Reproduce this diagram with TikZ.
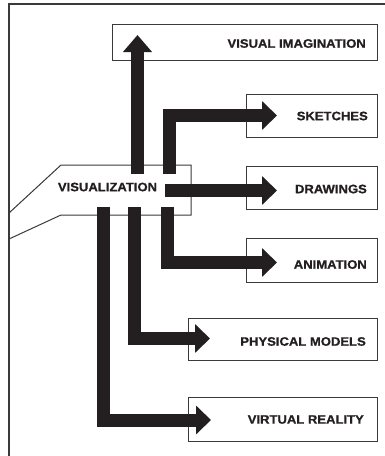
\documentclass[tikz,border=0pt]{standalone}
\usepackage{fontspec}
\usepackage{graphicx}
\setmainfont{Liberation Sans}
\newfontfamily\labelfont{Liberation Sans}[UprightFont=*-Bold, FakeBold=0.8]
\usetikzlibrary{arrows.meta}
\definecolor{ink}{HTML}{231F20}
\definecolor{rule}{HTML}{3A3A3A}
\newcommand{\lbl}[1]{\scalebox{1.07}[1]{#1}}
\tikzset{
  box/.style={draw=rule, line width=1pt, anchor=north west, inner sep=0pt},
  flow/.style={draw=ink, line width=13pt, line cap=butt, line join=miter,
    -{Triangle[length=15pt,width=28pt]}},
  frame/.style={draw=rule, line width=1.8pt},
  hub/.style={draw=rule, line width=1pt, line join=miter},
  caption/.style={font=\fontsize{12.2}{14}\labelfont, text=ink, anchor=east, inner sep=0pt}
}
\begin{document}
\begin{tikzpicture}[x=1pt,y=-1pt]
\useasboundingbox (0,0) rectangle (385,456);
\clip (0,0) rectangle (385,456);
\fill[white] (0,0) rectangle (385,456);

% outer frame (top and left edges)
\draw[frame] (9,470) -- (9,4) -- (400,4);

% central hub outline
\draw[hub] (9,213) -- (61,165) -- (191,165) -- (191,215) -- (61,215) -- (9,239);
\node[caption, anchor=center] (viz) at (107.5,187) {\lbl{VISUALIZATION}};

% target boxes
\node[box, minimum width=265pt, minimum height=36pt] (vi) at (112,24) {};
\node[box, minimum width=131pt, minimum height=43pt] (sk) at (246,94) {};
\node[box, minimum width=131pt, minimum height=43pt] (dr) at (246,166) {};
\node[box, minimum width=131pt, minimum height=44pt] (an) at (246,238) {};
\node[box, minimum width=189pt, minimum height=42pt] (pm) at (188,318) {};
\node[box, minimum width=189pt, minimum height=44pt] (vr) at (188,397) {};

\node[caption] (tvi) at ([xshift=-12pt,yshift=-1pt]vi.east) {\lbl{VISUAL IMAGINATION}};
\node[caption] (tsk) at ([xshift=-10pt]sk.east) {\lbl{SKETCHES}};
\node[caption] (tdr) at ([xshift=-11pt,yshift=-1pt]dr.east) {\lbl{DRAWINGS}};
\node[caption] (tan) at ([xshift=-11pt,yshift=-4pt]an.east) {\lbl{ANIMATION}};
\node[caption] (tpm) at ([xshift=-12pt,yshift=-2pt]pm.east) {\lbl{PHYSICAL MODELS}};
\node[caption] (tvr) at ([xshift=-14pt,yshift=0pt]vr.east) {\lbl{VIRTUAL REALITY}};

% arrow start points inside the hub
\coordinate (s1) at (137.5,174);
\coordinate (s2) at (169,174);
\coordinate (s3) at (165,190.5);
\coordinate (s4) at (167.5,207);
\coordinate (s5) at (134.5,207);
\coordinate (s6) at (103,207);

% arrow tips inside the target boxes
\coordinate (t1) at (137.5,35);
\coordinate (t2) at (277,115.5);
\coordinate (t3) at (277,190.5);
\coordinate (t4) at (277,262.5);
\coordinate (t5) at (210,338.5);
\coordinate (t6) at (211,420);

% flow arrows
\draw[flow, -{Triangle[length=17pt,width=28pt]}] (s1) -- (t1);
\draw[flow] (s2) |- (t2);
\draw[flow] (s3) -- (t3);
\draw[flow] (s4) |- (t4);
\draw[flow] (s5) |- (t5);
\draw[flow] (s6) |- (t6);
\end{tikzpicture}
\end{document}
